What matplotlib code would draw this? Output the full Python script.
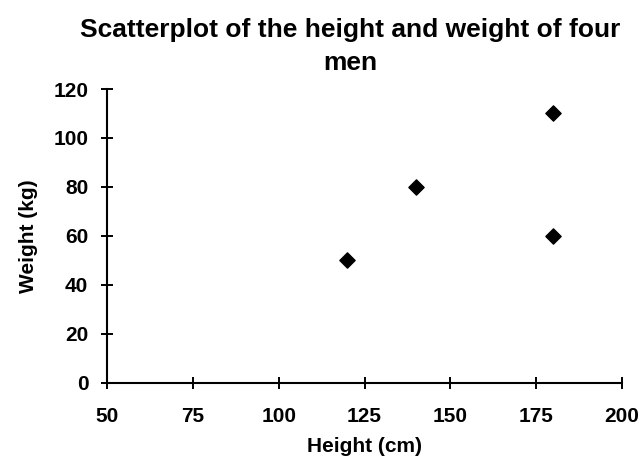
import matplotlib
matplotlib.use('Agg')
import matplotlib.pyplot as plt

# data
height_cm = [120, 140, 180, 180]
weight_kg = [50, 80, 110, 60]
x_ticks = [50, 75, 100, 125, 150, 175, 200]
y_ticks = [0, 20, 40, 60, 80, 100, 120]

plt.rcParams['font.family'] = ['Liberation Sans', 'DejaVu Sans']
plt.rcParams['font.weight'] = 'bold'

fig = plt.figure(figsize=(6.4, 4.59), dpi=100)
ax = fig.add_axes([0.1672, 0.1656, 0.8047, 0.6405])

ax.scatter(height_cm, weight_kg, marker='D', s=60, color='black', zorder=3)

ax.set_xlim(50, 200)
ax.set_ylim(0, 120)
ax.set_xticks(x_ticks)
ax.set_yticks(y_ticks)
ax.tick_params(direction='inout', length=9, width=1.4, labelsize=15)
ax.tick_params(axis='x', pad=13)
ax.tick_params(axis='y', pad=9)
for lab in ax.get_xticklabels() + ax.get_yticklabels():
    lab.set_fontweight('bold')

for side in ['top', 'right']:
    ax.spines[side].set_visible(False)
for side in ['left', 'bottom']:
    ax.spines[side].set_linewidth(1.5)

ax.set_xlabel('Height (cm)', fontsize=15, fontweight='bold', labelpad=8)
ax.set_ylabel('Weight (kg)', fontsize=15, fontweight='bold', labelpad=11)
ax.set_title('Scatterplot of the height and weight of four\nmen',
             fontsize=19, fontweight='bold', pad=14, linespacing=1.45, x=0.472)

fig.savefig('out.png', dpi=100)
